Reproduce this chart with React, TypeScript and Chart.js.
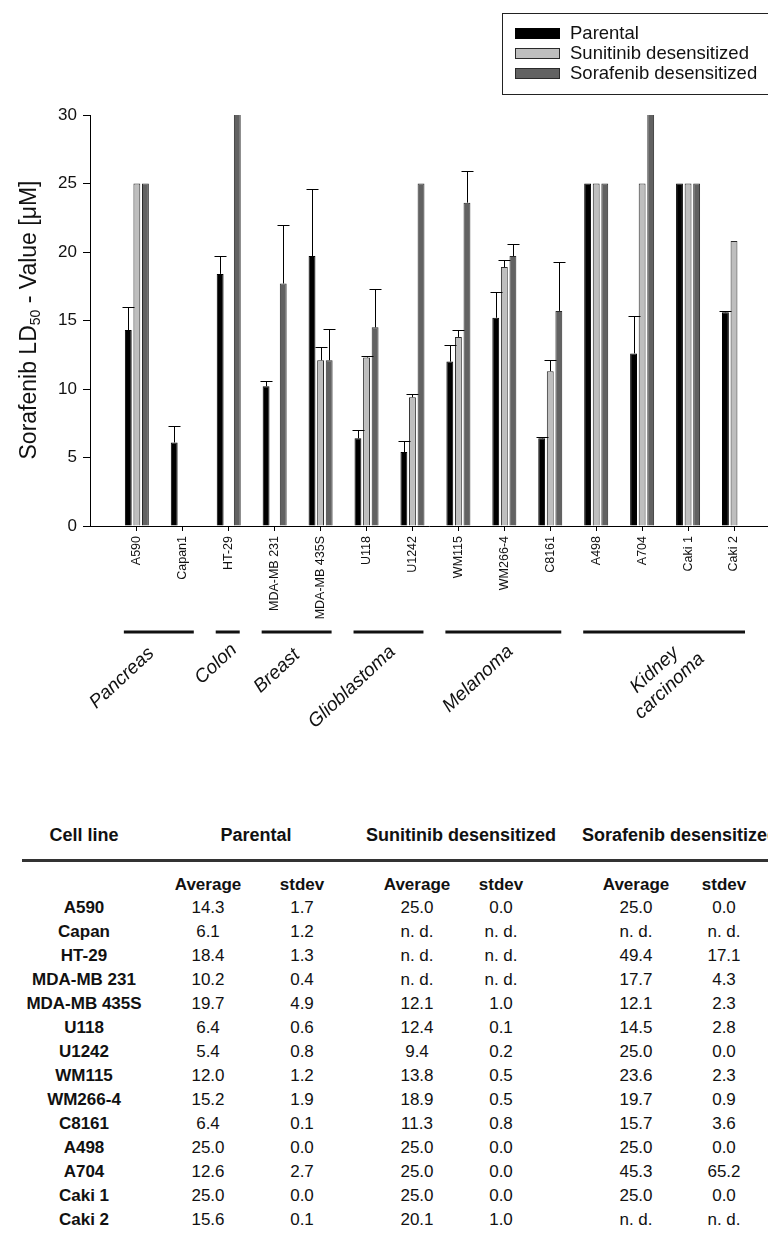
import React, { useEffect, useRef } from 'react';
import { Chart, registerables } from 'chart.js';

Chart.register(...registerables);

// ---------- data ----------
const cellLines = ['A590', 'Capan1', 'HT-29', 'MDA-MB 231', 'MDA-MB 435S', 'U118', 'U1242', 'WM115', 'WM266-4', 'C8161', 'A498', 'A704', 'Caki 1', 'Caki 2'];
const tableCellLines = ['A590', 'Capan', 'HT-29', 'MDA-MB 231', 'MDA-MB 435S', 'U118', 'U1242', 'WM115', 'WM266-4', 'C8161', 'A498', 'A704', 'Caki 1', 'Caki 2'];
const seriesNames = ['Parental', 'Sunitinib desensitized', 'Sorafenib desensitized'];

// table values (average / stdev); null = n. d.
const parentalAvg = [14.3, 6.1, 18.4, 10.2, 19.7, 6.4, 5.4, 12.0, 15.2, 6.4, 25.0, 12.6, 25.0, 15.6];
const parentalSd = [1.7, 1.2, 1.3, 0.4, 4.9, 0.6, 0.8, 1.2, 1.9, 0.1, 0.0, 2.7, 0.0, 0.1];
const sunitinibAvg = [25.0, null, null, null, 12.1, 12.4, 9.4, 13.8, 18.9, 11.3, 25.0, 25.0, 25.0, 20.1];
const sunitinibSd = [0.0, null, null, null, 1.0, 0.1, 0.2, 0.5, 0.5, 0.8, 0.0, 0.0, 0.0, 1.0];
const sorafenibAvg = [25.0, null, 49.4, 17.7, 12.1, 14.5, 25.0, 23.6, 19.7, 15.7, 25.0, 45.3, 25.0, null];
const sorafenibSd = [0.0, null, 17.1, 4.3, 2.3, 2.8, 0.0, 2.3, 0.9, 3.6, 0.0, 65.2, 0.0, null];

// bar heights as drawn in the figure (Caki 2 sunitinib bar drawn at ~20.8 without error bar)
const sunitinibBar = [25.0, null, null, null, 12.1, 12.3, 9.4, 13.8, 18.9, 11.3, 25.0, 25.0, 25.0, 20.8];
const sunitinibBarErr = [0.0, null, null, null, 1.0, 0.1, 0.2, 0.5, 0.5, 0.8, 0.0, 0.0, 0.0, 0.0];

const yTicks = [0, 5, 10, 15, 20, 25, 30];

const groupNames = ['Pancreas', 'Colon', 'Breast', 'Glioblastoma', 'Melanoma', 'Kidney\ncarcinoma'];
const groupFirst = [0, 2, 3, 5, 7, 10];
const groupLast = [1, 2, 4, 6, 9, 13];

// ---------- style / layout ----------
const FONT = 'Arial, "Liberation Sans", Helvetica, sans-serif';
const fills = ['#000000', '#bebebe', '#626262'];
const borders = ['#000000', '#2a2a2a', '#2a2a2a'];
const CANVAS_W = 768;
const CANVAS_H = 790;
const AREA_LEFT = 90;
const AREA_TOP = 115;
const AREA_BOTTOM = 526;
const GROUP_LINE_Y = 632;
const groupLabelCenter = [[122, 678], [216, 664], [277, 671], [352, 687], [478, 679], [662, 678]];

const barSeries = [parentalAvg, sunitinibBar, sorafenibAvg];
const errSeries = [parentalSd, sunitinibBarErr, sorafenibSd];

const errorBarPlugin = {
  id: 'errorBars',
  afterDatasetsDraw(chart: any) {
    const ctx = chart.ctx;
    const ys = chart.scales.y;
    const a = chart.chartArea;
    ctx.save();
    ctx.beginPath();
    ctx.rect(a.left, a.top - 1, a.right - a.left, a.bottom - a.top + 1);
    ctx.clip();
    ctx.strokeStyle = '#000';
    ctx.lineWidth = 1;
    chart.data.datasets.forEach((_ds: any, di: number) => {
      const meta = chart.getDatasetMeta(di);
      meta.data.forEach((bar: any, i: number) => {
        const v = barSeries[di][i];
        const sd = errSeries[di][i];
        if (v == null || sd == null || sd <= 0) return;
        const top = Math.round(ys.getPixelForValue(v + sd)) + 0.5;
        const x = Math.round(bar.x) + 0.5;
        ctx.beginPath();
        ctx.moveTo(x, bar.y);
        ctx.lineTo(x, top);
        ctx.moveTo(x - 6, top);
        ctx.lineTo(x + 6, top);
        ctx.stroke();
      });
    });
    ctx.restore();
  },
};

const decorPlugin = {
  id: 'decor',
  afterDraw(chart: any) {
    const ctx = chart.ctx;
    const xs = chart.scales.x;
    ctx.save();
    // legend
    ctx.strokeStyle = '#222';
    ctx.lineWidth = 1;
    ctx.strokeRect(502.5, 13.5, 320, 81);
    seriesNames.forEach((name, i) => {
      const y = 28 + i * 20;
      ctx.fillStyle = fills[i];
      ctx.fillRect(515, y, 45, 11);
      ctx.strokeStyle = borders[i];
      ctx.strokeRect(515.5, y + 0.5, 44, 10);
      ctx.fillStyle = '#111';
      ctx.font = `18.5px ${FONT}`;
      ctx.textAlign = 'left';
      ctx.textBaseline = 'middle';
      ctx.fillText(name, 570, y + 6);
    });

    // y-axis title with subscript
    ctx.save();
    ctx.translate(30, 320);
    ctx.rotate(-Math.PI / 2);
    const big = `23px ${FONT}`;
    const small = `14px ${FONT}`;
    const p1 = 'Sorafenib LD';
    const p2 = '50';
    const p3 = ' - Value [\u03bcM]';
    ctx.font = big;
    const w1 = ctx.measureText(p1).width;
    const w3 = ctx.measureText(p3).width;
    ctx.font = small;
    const w2 = ctx.measureText(p2).width;
    const total = w1 + w2 + w3;
    let cx = -total / 2;
    ctx.fillStyle = '#111';
    ctx.textAlign = 'left';
    ctx.textBaseline = 'middle';
    ctx.font = big;
    ctx.fillText(p1, cx, 0);
    cx += w1;
    ctx.font = small;
    ctx.fillText(p2, cx, 6);
    cx += w2;
    ctx.font = big;
    ctx.fillText(p3, cx, 0);
    ctx.restore();

    // group lines and labels
    groupNames.forEach((name, g) => {
      const x1 = xs.getPixelForValue(groupFirst[g]) - 13;
      const x2 = xs.getPixelForValue(groupLast[g]) + 11;
      ctx.fillStyle = '#111';
      ctx.fillRect(x1, GROUP_LINE_Y - 1.5, x2 - x1, 3);
      const [lx, ly] = groupLabelCenter[g];
      ctx.save();
      ctx.translate(lx, ly);
      ctx.rotate(-43 * Math.PI / 180);
      ctx.font = `italic 19px ${FONT}`;
      ctx.textAlign = 'center';
      ctx.textBaseline = 'middle';
      const lines = name.split('\n');
      const lh = 22;
      lines.forEach((ln, k) => {
        ctx.fillText(ln, 0, (k - (lines.length - 1) / 2) * lh);
      });
      ctx.restore();
    });
    ctx.restore();
  },
};

function ChartCanvas() {
  const ref = useRef<HTMLCanvasElement | null>(null);
  useEffect(() => {
    if (!ref.current) return;
    const chart = new Chart(ref.current, {
      type: 'bar',
      data: {
        datasets: seriesNames.map((name, di) => ({
          label: name,
          data: barSeries[di].map((v, i) => ({ x: i, y: v })),
          backgroundColor: fills[di],
          borderColor: borders[di],
          borderWidth: 1,
          categoryPercentage: 0.56,
          barPercentage: 0.8,
        })),
      } as any,
      options: {
        animation: false,
        responsive: false,
        devicePixelRatio: 1,
        layout: { padding: { top: AREA_TOP, left: 0, right: 0, bottom: 0 } },
        plugins: { legend: { display: false }, tooltip: { enabled: false } },
        scales: {
          x: {
            type: 'linear',
            min: -1.02,
            max: 13.74,
            offset: false,
            afterBuildTicks: (axis: any) => {
              axis.ticks = cellLines.map((_, i) => ({ value: i }));
            },
            afterFit: (scale: any) => {
              scale.height = CANVAS_H - AREA_BOTTOM;
            },
            grid: { display: true, drawOnChartArea: false, drawTicks: true, tickLength: 5, color: '#000', offset: false },
            border: { display: true, color: '#000', width: 1 },
            ticks: {
              autoSkip: false,
              minRotation: 90,
              maxRotation: 90,
              padding: 5,
              color: '#111',
              font: { family: FONT, size: 12.5 },
              callback: (value: any) => cellLines[value] ?? '',
            },
          },
          y: {
            type: 'linear',
            min: yTicks[0],
            max: yTicks[yTicks.length - 1],
            afterFit: (scale: any) => {
              scale.width = AREA_LEFT;
            },
            afterBuildTicks: (axis: any) => {
              axis.ticks = yTicks.map((v) => ({ value: v }));
            },
            grid: { display: true, drawOnChartArea: false, drawTicks: true, tickLength: 7, color: '#000' },
            border: { display: true, color: '#000', width: 1 },
            ticks: {
              padding: 6,
              color: '#111',
              font: { family: FONT, size: 17 },
            },
          },
        },
      } as any,
      plugins: [errorBarPlugin, decorPlugin],
    });
    return () => chart.destroy();
  }, []);
  return <canvas ref={ref} width={CANVAS_W} height={CANVAS_H} style={{ position: 'absolute', left: 0, top: 0, width: CANVAS_W, height: CANVAS_H }} />;
}

function fmt(v: number | null) {
  return v == null ? 'n. d.' : v.toFixed(1);
}

const COLS = { cell: 84, pAvg: 208, pSd: 302, sAvg: 417, sSd: 501, fAvg: 636, fSd: 724 };
const HEADER_Y = 835;
const RULE_Y = 860;
const SUB_Y = 885;
const ROW0_Y = 908;
const ROW_H = 24;
const BODY = 17;

function Txt({ x, y, size, bold, children, align }: any) {
  const lh = Math.round(size * 1.2);
  const w = 260;
  const left = align === 'left' ? x : x - w / 2;
  return (
    <div
      style={{
        position: 'absolute',
        left,
        top: y - lh / 2,
        width: w,
        height: lh,
        lineHeight: `${lh}px`,
        fontSize: size,
        fontWeight: bold ? 'bold' : 'normal',
        textAlign: align === 'left' ? 'left' : 'center',
        whiteSpace: 'nowrap',
        color: '#111',
      }}
    >
      {children}
    </div>
  );
}

function DataTable() {
  const cells: any[] = [];
  cells.push(<Txt key="h0" x={COLS.cell} y={HEADER_Y} size={18} bold>Cell line</Txt>);
  cells.push(<Txt key="h1" x={(COLS.pAvg + COLS.pSd) / 2 + 1} y={HEADER_Y} size={18} bold>{seriesNames[0]}</Txt>);
  cells.push(<Txt key="h2" x={(COLS.sAvg + COLS.sSd) / 2 + 2} y={HEADER_Y} size={18} bold>{seriesNames[1]}</Txt>);
  cells.push(<Txt key="h3" x={582} y={HEADER_Y} size={18} bold align="left">{seriesNames[2]}</Txt>);
  const subCols = [COLS.pAvg, COLS.pSd, COLS.sAvg, COLS.sSd, COLS.fAvg, COLS.fSd];
  subCols.forEach((cx, k) => {
    cells.push(<Txt key={`s${k}`} x={cx} y={SUB_Y} size={BODY} bold>{k % 2 === 0 ? 'Average' : 'stdev'}</Txt>);
  });
  tableCellLines.forEach((name, i) => {
    const y = ROW0_Y + i * ROW_H;
    cells.push(<Txt key={`c${i}`} x={COLS.cell} y={y} size={BODY} bold>{name}</Txt>);
    const vals = [parentalAvg[i], parentalSd[i], sunitinibAvg[i], sunitinibSd[i], sorafenibAvg[i], sorafenibSd[i]];
    vals.forEach((v, k) => {
      cells.push(<Txt key={`v${i}-${k}`} x={subCols[k]} y={y} size={BODY}>{fmt(v)}</Txt>);
    });
  });
  return (
    <>
      {cells}
      <div style={{ position: 'absolute', left: 22, top: RULE_Y - 1.5, width: 768 - 22, height: 3, background: '#333' }} />
    </>
  );
}

export default function App() {
  return (
    <div
      style={{
        position: 'absolute',
        left: 0,
        top: 0,
        width: 768,
        height: 1236,
        overflow: 'hidden',
        background: '#fff',
        fontFamily: FONT,
      }}
    >
      <ChartCanvas />
      <DataTable />
    </div>
  );
}
